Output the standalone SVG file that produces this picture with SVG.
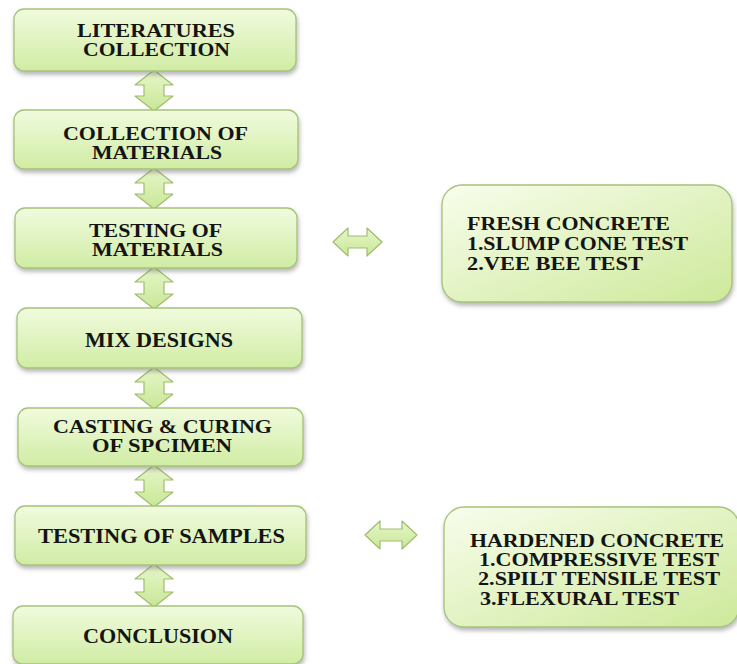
<svg xmlns="http://www.w3.org/2000/svg" width="737" height="664" viewBox="0 0 737 664">
<defs>
<linearGradient id="gBox" x1="0" y1="0" x2="0" y2="1">
<stop offset="0" stop-color="#f1fbde"/>
<stop offset="1" stop-color="#d0eca4"/>
</linearGradient>
<linearGradient id="gSide" x1="0" y1="0" x2="1" y2="1">
<stop offset="0" stop-color="#f8fdec"/>
<stop offset="1" stop-color="#cde99a"/>
</linearGradient>
<linearGradient id="gArr" x1="0" y1="0" x2="0" y2="1">
<stop offset="0" stop-color="#e6f6ca"/>
<stop offset="1" stop-color="#c9e796"/>
</linearGradient>
<filter id="sh" x="-10%" y="-10%" width="120%" height="130%">
<feDropShadow dx="1" dy="3" stdDeviation="2" flood-color="#707070" flood-opacity="0.5"/>
</filter>
</defs>
<style>
.box{fill:url(#gBox);stroke:#a6c279;stroke-width:1.3;filter:url(#sh)}
.side{fill:url(#gSide);stroke:#a6c279;stroke-width:1.3;filter:url(#sh)}
.arr{fill:url(#gArr);stroke:#9fbd6c;stroke-width:1.2;stroke-linejoin:round}
text{font-family:"Liberation Serif","Times New Roman",serif;font-weight:bold;font-size:18.5px;fill:#141414}
.one{font-size:20px}
.s{font-size:18px}
</style>
<rect width="737" height="664" fill="#ffffff"/>

<g id="connectors">
<path class="arr" d="M154,70 L173,85 L164,85 L164,96 L173,96 L154,111 L135,96 L144,96 L144,85 L135,85 Z"/>
<path class="arr" d="M154,168 L173,183 L164,183 L164,194 L173,194 L154,209 L135,194 L144,194 L144,183 L135,183 Z"/>
<path class="arr" d="M154,267 L173,282 L164,282 L164,294 L173,294 L154,309 L135,294 L144,294 L144,282 L135,282 Z"/>
<path class="arr" d="M154,367 L173,382 L164,382 L164,394 L173,394 L154,409 L135,394 L144,394 L144,382 L135,382 Z"/>
<path class="arr" d="M154,465 L173,480 L164,480 L164,492 L173,492 L154,507 L135,492 L144,492 L144,480 L135,480 Z"/>
<path class="arr" d="M154,564 L173,579 L164,579 L164,592 L173,592 L154,607 L135,592 L144,592 L144,579 L135,579 Z"/>
<path class="arr" d="M333,242 L348,228 L348,236 L367,236 L367,228 L382,242 L367,256 L367,248 L348,248 L348,256 Z"/>
<path class="arr" d="M365,535 L380,521 L380,529 L402,529 L402,521 L417,535 L402,549 L402,541 L380,541 L380,549 Z"/>
</g>

<g id="n1">
<rect class="box" x="14" y="9" width="282" height="62" rx="10"/>
<text x="77" y="37" textLength="158" lengthAdjust="spacingAndGlyphs">LITERATURES</text>
<text x="83" y="56" textLength="147" lengthAdjust="spacingAndGlyphs">COLLECTION</text>
</g>
<g id="n2">
<rect class="box" x="14" y="110" width="284" height="59" rx="10"/>
<text x="63" y="140" textLength="185" lengthAdjust="spacingAndGlyphs">COLLECTION OF</text>
<text x="92" y="159" textLength="130" lengthAdjust="spacingAndGlyphs">MATERIALS</text>
</g>
<g id="n3">
<rect class="box" x="15" y="208" width="282" height="60" rx="10"/>
<text x="89" y="237" textLength="133" lengthAdjust="spacingAndGlyphs">TESTING OF</text>
<text x="92" y="256" textLength="131" lengthAdjust="spacingAndGlyphs">MATERIALS</text>
</g>
<g id="n4">
<rect class="box" x="17" y="308" width="285" height="60" rx="10"/>
<text class="one" x="85" y="347" textLength="148" lengthAdjust="spacingAndGlyphs">MIX DESIGNS</text>
</g>
<g id="n5">
<rect class="box" x="18" y="408" width="285" height="58" rx="10"/>
<text x="53" y="433" textLength="219" lengthAdjust="spacingAndGlyphs">CASTING &amp; CURING</text>
<text x="92" y="452" textLength="140" lengthAdjust="spacingAndGlyphs">OF SPCIMEN</text>
</g>
<g id="n6">
<rect class="box" x="15" y="506" width="291" height="59" rx="10"/>
<text class="one" x="38" y="543" textLength="247" lengthAdjust="spacingAndGlyphs">TESTING OF SAMPLES</text>
</g>
<g id="n7">
<rect class="box" x="13" y="606" width="290" height="58" rx="10"/>
<text class="one" x="83" y="643" textLength="150" lengthAdjust="spacingAndGlyphs">CONCLUSION</text>
</g>

<g id="fresh">
<rect class="side" x="442" y="185" width="290" height="117" rx="20"/>
<text class="s" x="467" y="230" textLength="203" lengthAdjust="spacingAndGlyphs">FRESH CONCRETE</text>
<text class="s" x="467" y="250" textLength="221" lengthAdjust="spacingAndGlyphs">1.SLUMP CONE TEST</text>
<text class="s" x="467" y="270" textLength="176" lengthAdjust="spacingAndGlyphs">2.VEE BEE TEST</text>
</g>
<g id="hardened">
<rect class="side" x="444" y="507" width="295" height="120" rx="20"/>
<text x="470" y="547" textLength="254" lengthAdjust="spacingAndGlyphs">HARDENED CONCRETE</text>
<text x="479" y="566" textLength="240" lengthAdjust="spacingAndGlyphs">1.COMPRESSIVE TEST</text>
<text x="478" y="585" textLength="242" lengthAdjust="spacingAndGlyphs">2.SPILT TENSILE TEST</text>
<text x="480" y="605" textLength="199" lengthAdjust="spacingAndGlyphs">3.FLEXURAL TEST</text>
</g>
</svg>
